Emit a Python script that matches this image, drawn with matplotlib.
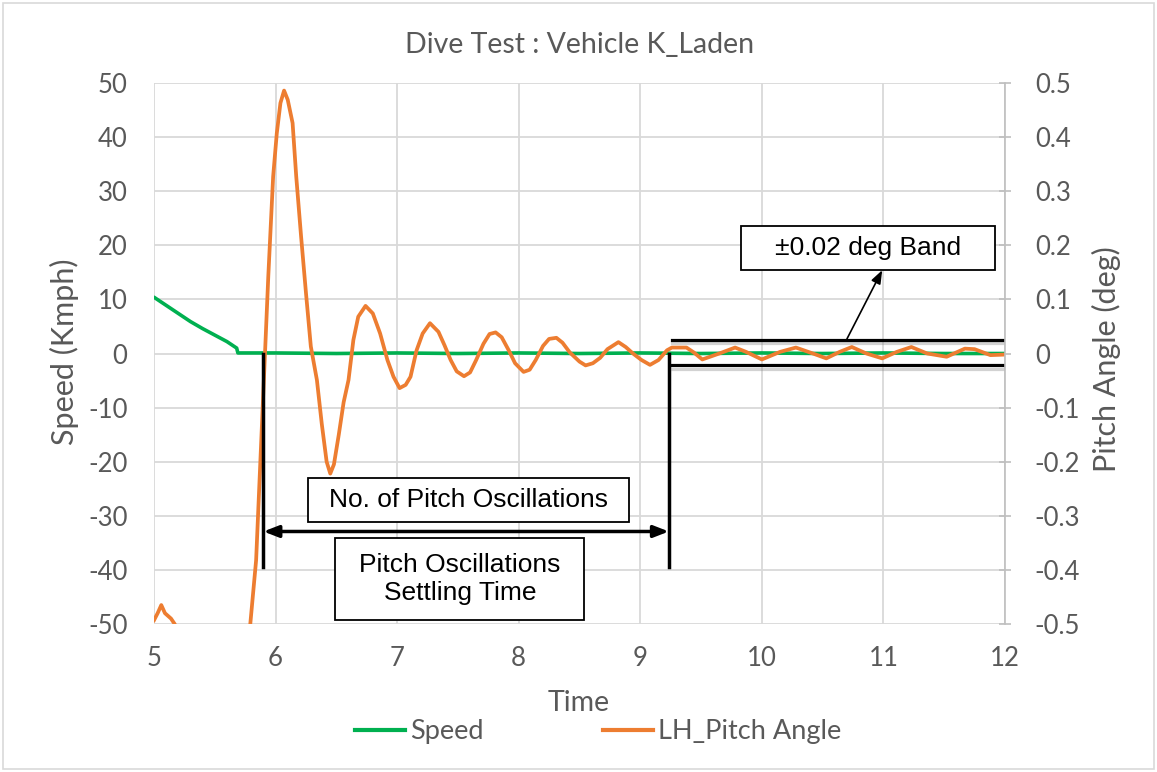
import matplotlib.pyplot as plt
import matplotlib.patheffects as pe
from matplotlib.patches import Rectangle
from matplotlib.lines import Line2D

# Speed trace (Kmph)
speed_t = [5.00, 5.10, 5.20, 5.30, 5.40, 5.50, 5.60, 5.68, 5.69, 6.00, 6.50,
           7.00, 7.50, 8.00, 8.50, 9.00, 9.50, 10.00, 10.50, 11.00, 11.50, 12.00]
speed_v = [10.4, 8.9, 7.4, 5.9, 4.6, 3.4, 2.2, 1.0, 0.1, 0.1, 0.0,
           0.1, 0.0, 0.1, 0.0, 0.1, 0.0, 0.1, 0.0, 0.1, 0.0, 0.0]

# LH pitch angle trace (deg)
pitch_t = [5.00, 5.03, 5.06, 5.09, 5.14, 5.17, 5.25, 5.40, 5.55, 5.70, 5.79, 5.84,
           5.913, 5.94, 5.98, 6.01, 6.04, 6.07, 6.10, 6.14, 6.17, 6.21, 6.25, 6.29,
           6.34, 6.38, 6.42, 6.45, 6.48, 6.52, 6.56, 6.60, 6.64, 6.68, 6.74, 6.80,
           6.86, 6.92, 6.97, 7.02, 7.07, 7.11, 7.16, 7.21, 7.27, 7.34, 7.39, 7.44,
           7.49, 7.55, 7.60, 7.65, 7.71, 7.76, 7.81, 7.86, 7.92, 7.97, 8.04, 8.09,
           8.14, 8.20, 8.25, 8.31, 8.36, 8.42, 8.50, 8.55, 8.61, 8.67, 8.73, 8.82,
           8.88, 8.94, 9.01, 9.08, 9.15, 9.22, 9.26, 9.38, 9.44, 9.51, 9.65, 9.78,
           9.87, 10.00, 10.15, 10.28, 10.42, 10.53, 10.64, 10.74, 10.86, 10.99, 11.11,
           11.23, 11.36, 11.52, 11.67, 11.75, 11.88, 12.00]
pitch_v = [-0.493, -0.48, -0.465, -0.48, -0.49, -0.50, -0.56, -0.63, -0.64, -0.58,
           -0.505, -0.382, 0.0, 0.142, 0.327, 0.407, 0.463, 0.486, 0.469, 0.426,
           0.327, 0.216, 0.112, 0.013, -0.049, -0.13, -0.20, -0.222, -0.205, -0.15,
           -0.09, -0.049, 0.025, 0.068, 0.088, 0.074, 0.037, -0.012, -0.043, -0.064,
           -0.058, -0.043, 0.006, 0.037, 0.056, 0.040, 0.015, -0.012, -0.033, -0.042,
           -0.035, -0.012, 0.018, 0.036, 0.039, 0.030, 0.005, -0.018, -0.034, -0.030,
           -0.012, 0.014, 0.027, 0.029, 0.020, 0.002, -0.015, -0.022, -0.018, -0.008,
           0.008, 0.021, 0.012, 0.0, -0.012, -0.021, -0.012, 0.006, 0.011, 0.011,
           0.002, -0.011, 0.0, 0.011, 0.003, -0.011, 0.003, 0.011, 0.0, -0.009,
           0.003, 0.012, 0.0, -0.009, 0.003, 0.012, 0.0, -0.006, 0.009, 0.008,
           -0.003, -0.002]

x_ticks = [5, 6, 7, 8, 9, 10, 11, 12]
speed_ticks = [-50, -40, -30, -20, -10, 0, 10, 20, 30, 40, 50]
pitch_ticks = [-0.5, -0.4, -0.3, -0.2, -0.1, 0, 0.1, 0.2, 0.3, 0.4, 0.5]
pitch_labels = ["-0.5", "-0.4", "-0.3", "-0.2", "-0.1", "0", "0.1", "0.2", "0.3", "0.4", "0.5"]

GREEN = "#00b050"
ORANGE = "#ed7d31"
GREY = "#595959"
GRID = "#d9d9d9"

plt.rcParams["font.family"] = ["Lato", "DejaVu Sans"]
plt.rcParams["axes.unicode_minus"] = False

fig = plt.figure(figsize=(11.57, 7.72), dpi=100)
ax = fig.add_axes([154 / 1157, 1 - 624 / 772, 851 / 1157, 541 / 772])
ax2 = ax.twinx()

ax.plot(speed_t, speed_v, color=GREEN, lw=2.6, solid_capstyle="round")
ax2.plot(pitch_t, pitch_v, color=ORANGE, lw=2.7, solid_joinstyle="round")

ax.set_xlim(5, 12)
ax.set_ylim(-50, 50)
ax2.set_ylim(-0.5, 0.5)
ax.set_xticks(x_ticks)
ax.set_yticks(speed_ticks)
ax2.set_yticks(pitch_ticks)
ax2.set_yticklabels(pitch_labels)

ax.grid(True, color=GRID, lw=1.3)
ax.set_axisbelow(True)
for s in ax.spines.values():
    s.set_visible(False)
for s in ax2.spines.values():
    s.set_visible(False)
ax2.spines["right"].set_visible(True)
ax2.spines["right"].set_color("#bfbfbf")
ax2.spines["right"].set_linewidth(1.2)

ax.tick_params(axis="both", length=0, labelsize=18.5, labelcolor=GREY)
ax.tick_params(axis="y", pad=19)
ax.tick_params(axis="x", pad=16)
ax2.tick_params(axis="y", direction="inout", length=9, width=1.2, color="#bfbfbf",
                labelsize=18.5, labelcolor=GREY, pad=17)

# annotations (pitch units on ax2)
ax2.plot([5.9, 5.9], [0.0, -0.395], color="black", lw=2.5)
ax2.plot([9.235, 9.235], [0.0, -0.395], color="black", lw=2.5)
ax2.annotate("", xy=(5.9, -0.329), xytext=(9.235, -0.329),
             arrowprops=dict(arrowstyle="<|-|>,head_length=0.9,head_width=0.35",
                             color="black", lw=2.5, shrinkA=0, shrinkB=0))

shadow = [pe.SimpleLineShadow(offset=(0, -2.5), shadow_color="#7f7f7f", alpha=0.35),
          pe.Normal()]
ax2.plot([9.26, 12.0], [0.025, 0.025], color="black", lw=2.3, path_effects=shadow)
ax2.plot([9.26, 12.0], [-0.022, -0.022], color="black", lw=2.3, path_effects=shadow)

box_font = ["Liberation Sans", "DejaVu Sans"]
ax2.add_patch(Rectangle((6.27, -0.311), 2.64, 0.081, facecolor="white",
                        edgecolor="black", lw=1.3, zorder=5))
ax2.text(7.59, -0.2705, "No. of Pitch Oscillations", ha="center", va="center",
         fontsize=19, family=box_font, zorder=6)
ax2.add_patch(Rectangle((6.49, -0.493), 2.05, 0.152, facecolor="white",
                        edgecolor="black", lw=1.3, zorder=5))
ax2.text(7.515, -0.417, "Pitch Oscillations\nSettling Time", ha="center", va="center",
         fontsize=19, family=box_font, linespacing=1.2, zorder=6)
ax2.add_patch(Rectangle((9.83, 0.154), 2.09, 0.081, facecolor="white",
                        edgecolor="black", lw=1.3, zorder=5))
ax2.text(10.875, 0.1945, "\u00b10.02 deg Band", ha="center", va="center",
         fontsize=19, family=box_font, zorder=6)
ax2.annotate("", xy=(10.99, 0.154), xytext=(10.70, 0.027),
             arrowprops=dict(arrowstyle="-|>,head_length=0.8,head_width=0.3",
                             color="black", lw=1.2, shrinkA=0, shrinkB=0))

fig.text(0.501, 1 - 45 / 772, "Dive Test : Vehicle K_Laden", ha="center", va="center",
         fontsize=20.5, color=GREY)
fig.text(64 / 1157, 1 - 352 / 772, "Speed (Kmph)", rotation=90, ha="center", va="center",
         fontsize=22, color=GREY)
fig.text(1106 / 1157, 1 - 359 / 772, "Pitch Angle (deg)", rotation=90, ha="center",
         va="center", fontsize=22, color=GREY)
fig.text(579 / 1157, 1 - 703 / 772, "Time", ha="center", va="center", fontsize=20.5, color=GREY)

handles = [Line2D([], [], color=GREEN, lw=3), Line2D([], [], color=ORANGE, lw=3)]
fig.legend(handles, ["Speed", "LH_Pitch Angle"], loc="center", bbox_to_anchor=(0.517, 1 - 732 / 772),
           ncol=2, frameon=False, fontsize=19.5, labelcolor=GREY, handlelength=1.85,
           handletextpad=0.2, columnspacing=4.4)

fig.patches.append(Rectangle((3 / 1157, 3 / 772), 1 - 6 / 1157, 1 - 6 / 772,
                             transform=fig.transFigure, fill=False,
                             edgecolor=GRID, lw=1.2))

fig.savefig("out.png", dpi=100)
